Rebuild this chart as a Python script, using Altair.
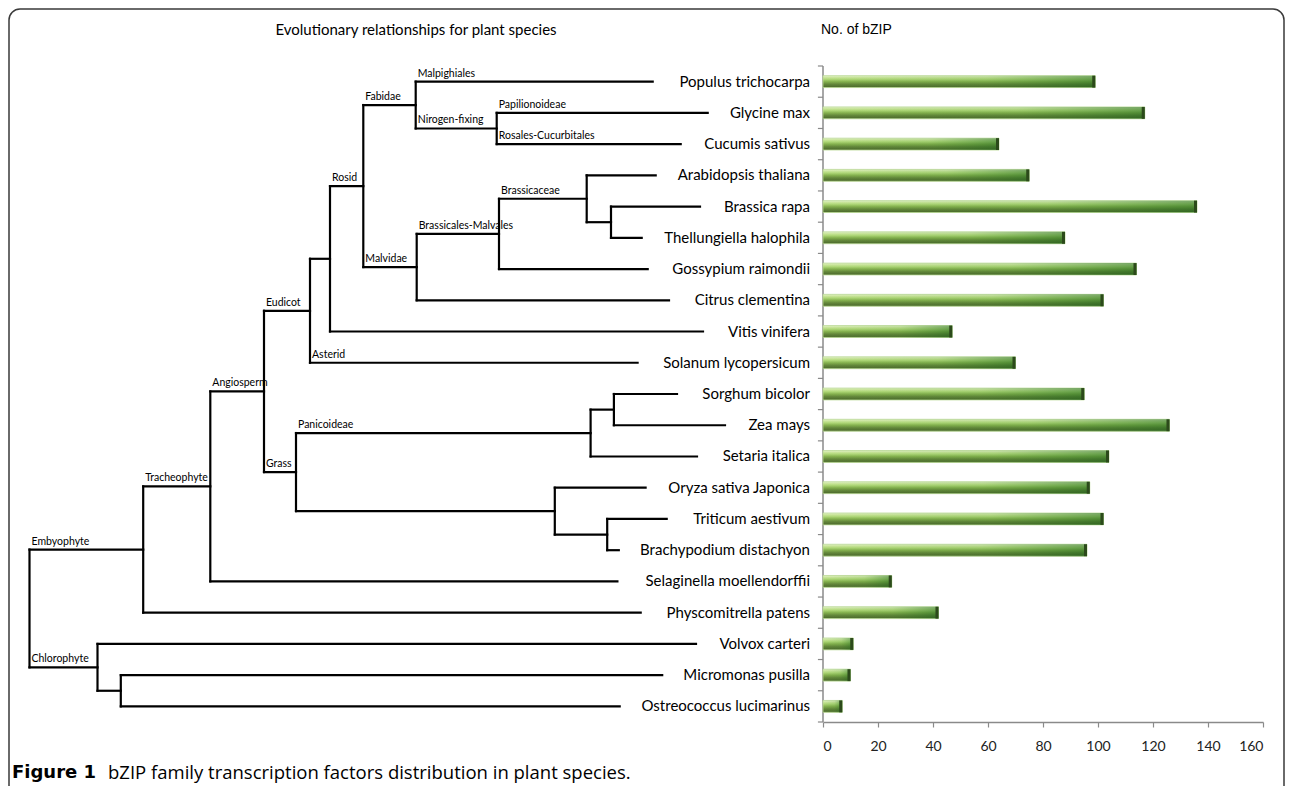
import altair as alt
import pandas as pd

# ---------------- data ----------------
species = [
    "Populus trichocarpa", "Glycine max", "Cucumis sativus", "Arabidopsis thaliana",
    "Brassica rapa", "Thellungiella halophila", "Gossypium raimondii", "Citrus clementina",
    "Vitis vinifera", "Solanum lycopersicum", "Sorghum bicolor", "Zea mays",
    "Setaria italica", "Oryza sativa Japonica", "Triticum aestivum", "Brachypodium distachyon",
    "Selaginella moellendorffii", "Physcomitrella patens", "Volvox carteri",
    "Micromonas pusilla", "Ostreococcus lucimarinus",
]
bzip_counts = [99, 117, 64, 75, 136, 88, 114, 102, 47, 70, 95, 126, 104, 97, 102, 96, 25, 42, 11, 10, 7]
x_ticks = [0, 20, 40, 60, 80, 100, 120, 140, 160]

# internal nodes of the tree: id, parent, depth from root (branch units), clade name of the branch
clade_nodes = ["root", "emb", "chl", "tra", "ang", "eud", "core", "ros", "fab", "nfix",
               "mal", "bm", "bra", "bt", "grass", "pan", "sz", "bep", "tb", "mo"]
clade_parents = ["", "root", "root", "emb", "tra", "ang", "eud", "core", "ros", "fab",
                 "ros", "mal", "bm", "bra", "ang", "grass", "pan", "grass", "bep", "chl"]
clade_depths = [0, 113.7, 68, 180.8, 234.5, 280.5, 300.5, 333.8, 386.2, 467.2,
                387.2, 469.5, 557.2, 581.5, 266.5, 561.1, 584.4, 525.3, 577.7, 91.3]
clade_labels = ["", "Embyophyte", "Chlorophyte", "Tracheophyte", "Angiosperm", "Eudicot", "",
                "Rosid", "Fabidae", "Nirogen-fixing", "Malvidae", "Brassicales-Malvales",
                "Brassicaceae", "", "Grass", "Panicoideae", "", "", "", ""]

# leaves (same order as species)
leaf_parents = ["fab", "nfix", "nfix", "bra", "bt", "bt", "bm", "mal", "core", "eud",
                "sz", "sz", "pan", "bep", "tb", "tb", "tra", "emb", "chl", "mo", "mo"]
leaf_depths = [623.2, 678.2, 651.2, 626.2, 670.5, 612.2, 618.2, 639.5, 673.5, 608.1,
               647.5, 695.5, 667.5, 616.1, 637.2, 589.3, 587.9, 611.2, 666.5, 632.7, 590.2]
leaf_labels = ["Malpighiales", "Papilionoideae", "Rosales-Cucurbitales", "", "", "", "", "", "",
               "Asterid", "", "", "", "", "", "", "", "", "", "", ""]

# ---------------- dendrogram layout ----------------
depth = dict(zip(clade_nodes, clade_depths))
parent = dict(zip(clade_nodes, clade_parents))
label = dict(zip(clade_nodes, clade_labels))
children = {n: [] for n in clade_nodes}
for n, p in zip(clade_nodes, clade_parents):
    if p:
        children[p].append(n)
ypos = {}
for i, (s, p, d, l) in enumerate(zip(species, leaf_parents, leaf_depths, leaf_labels)):
    depth[s] = d
    parent[s] = p
    label[s] = l
    children[p].append(s)
    ypos[s] = i + 0.5


def gety(n):
    if n not in ypos:
        ypos[n] = sum(gety(c) for c in children[n]) / len(children[n])
    return ypos[n]


gety("root")

segs = []
for n in depth:
    p = parent[n]
    if p:
        segs.append(dict(x=depth[p], x2=depth[n], y=ypos[n], y2=ypos[n]))
for n in clade_nodes:
    ys = [ypos[c] for c in children[n]]
    segs.append(dict(x=depth[n], x2=depth[n], y=min(ys), y2=max(ys)))
segs_df = pd.DataFrame(segs)

clab_df = pd.DataFrame([dict(x=depth[parent[n]], y=ypos[n], t=label[n])
                        for n in depth if parent[n] and label[n]])

bars_df = pd.DataFrame({
    "species": species,
    "v": bzip_counts,
    "yc": [i + 0.5 for i in range(len(species))],
})
bars_df["y"] = bars_df["yc"] - 0.19
bars_df["y2"] = bars_df["yc"] + 0.19

bounds_df = pd.DataFrame({"b": list(range(len(species) + 1))})

# ---------------- scales ----------------
yscale = alt.Scale(domain=[0, len(species)], reverse=True, nice=False, zero=False)
tscale = alt.Scale(domain=[0, 1000], range=[21.5, 1021.5], nice=False, zero=False)
bscale = alt.Scale(domain=[0, 160], range=[815, 1255], nice=False, zero=False)
AXC = "#8a8a8a"
xaxis = alt.Axis(values=x_ticks, grid=False, domainColor=AXC,
                 domainWidth=1.5, tickColor=AXC, tickWidth=1.2, tickSize=5,
                 labelFont="Lato", labelFontSize=14, labelColor="#222", labelPadding=12,
                 title=None)

one = pd.DataFrame({"a": [0]})

frame = alt.Chart(one).mark_rect(filled=False, stroke="#3a3a3a", strokeWidth=1.5,
                                 cornerRadius=11).encode(
    x=alt.value(1), x2=alt.value(1276), y=alt.value(-57), y2=alt.value(770))

tree = alt.Chart(segs_df).mark_rule(color="black", strokeWidth=2.2, strokeCap="square").encode(
    x=alt.X("x:Q", scale=tscale, axis=None), x2="x2:Q",
    y=alt.Y("y:Q", scale=yscale, axis=None), y2="y2:Q")

clade_text = alt.Chart(clab_df).mark_text(align="left", baseline="bottom", dx=2, dy=-3,
                                          font="Lato", fontSize=10.5, color="black").encode(
    x=alt.X("x:Q", scale=tscale, axis=None),
    y=alt.Y("y:Q", scale=yscale, axis=None), text="t:N")

species_text = alt.Chart(bars_df).mark_text(align="right", baseline="middle", font="Lato",
                                            fontSize=15, color="black").encode(
    x=alt.value(802), y=alt.Y("yc:Q", scale=yscale, axis=None), text="species:N")

# vertical category axis of the bar chart: domain line + ticks at row boundaries
yaxis_line = alt.Chart(one).transform_calculate(
    z="0", t="0", b2=str(len(species))).mark_rule(color=AXC, strokeWidth=1.5).encode(
    x=alt.X("z:Q", scale=bscale, axis=None),
    y=alt.Y("t:Q", scale=yscale, axis=None), y2="b2:Q")
yaxis_ticks = alt.Chart(bounds_df).transform_calculate(z="0", zl="-1.85").mark_rule(
    color=AXC, strokeWidth=1.2).encode(
    x=alt.X("z:Q", scale=bscale, axis=None), x2="zl:Q",
    y=alt.Y("b:Q", scale=yscale, axis=None))

main_fill = alt.LinearGradient(
    gradient="linear", x1=0, x2=0, y1=0, y2=1,
    stops=[alt.GradientStop(offset=0, color="#e8f5d2"),
           alt.GradientStop(offset=0.12, color="#cfe8a2"),
           alt.GradientStop(offset=0.3, color="#b0d878"),
           alt.GradientStop(offset=0.5, color="#86b24f"),
           alt.GradientStop(offset=0.72, color="#64873b"),
           alt.GradientStop(offset=1, color="#4a672b")])
bars = alt.Chart(bars_df).mark_rect(fill=main_fill, stroke="#b9d893", strokeWidth=0.8).encode(
    x=alt.X("v:Q", scale=bscale, axis=xaxis), x2=alt.datum(0),
    y=alt.Y("y:Q", scale=yscale, axis=None), y2="y2:Q")

shade_fill = alt.LinearGradient(
    gradient="linear", x1=0, x2=1, y1=0, y2=0,
    stops=[alt.GradientStop(offset=0, color="rgba(40,120,30,0)"),
           alt.GradientStop(offset=0.6, color="rgba(40,120,30,0.12)"),
           alt.GradientStop(offset=1, color="rgba(25,100,25,0.5)")])
shade = alt.Chart(bars_df).mark_rect(fill=shade_fill).encode(
    x=alt.X("v:Q", scale=bscale, axis=None), x2=alt.datum(0),
    y=alt.Y("y:Q", scale=yscale, axis=None), y2="y2:Q")

caps = alt.Chart(bars_df).transform_calculate(c="datum.v - 1.1").mark_rect(
    fill="#2c4a1b").encode(
    x=alt.X("c:Q", scale=bscale, axis=None), x2="v:Q",
    y=alt.Y("y:Q", scale=yscale, axis=None), y2="y2:Q")

title_left = alt.Chart(one).mark_text(text="Evolutionary relationships for plant species",
                                      align="center", baseline="middle", font="Lato",
                                      fontSize=15, color="black").encode(
    x=alt.value(408), y=alt.value(-36))
title_right = alt.Chart(one).mark_text(text="No. of bZIP", align="left", baseline="middle",
                                       font="Liberation Sans", fontSize=14, color="black").encode(
    x=alt.value(813), y=alt.value(-36))
cap_bold = alt.Chart(one).mark_text(text="Figure 1", align="left", baseline="middle",
                                    font="DejaVu Sans", fontSize=18, fontWeight="bold",
                                    color="black").encode(x=alt.value(4), y=alt.value(707))
cap_rest = alt.Chart(one).mark_text(
    text="bZIP family transcription factors distribution in plant species.",
    align="left", baseline="middle", font="Open Sans", fontSize=18.5, color="black").encode(
    x=alt.value(100), y=alt.value(707))

chart = alt.layer(frame, tree, clade_text, species_text, yaxis_line, yaxis_ticks,
                  bars, shade, caps, title_left, title_right, cap_bold, cap_rest).resolve_scale(
    x="independent").properties(
    width=1255, height=656,
    padding={"left": 0, "top": 58, "right": 22, "bottom": 64},
    autosize=alt.AutoSizeParams(type="none"),
    background="white",
).configure_view(stroke=None)

chart.save("out.html", embed_options={"renderer": "svg", "actions": False})
